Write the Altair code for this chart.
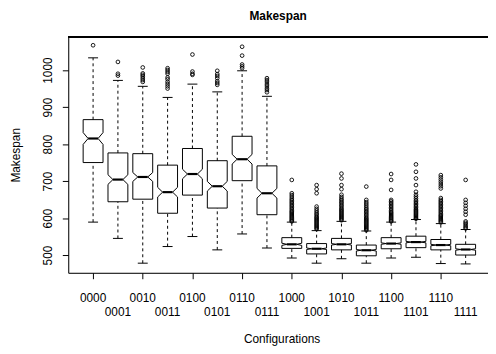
import altair as alt
import pandas as pd

# ---- data ----
configs = ['0000', '0001', '0010', '0011', '0100', '0101', '0110', '0111',
           '1000', '1001', '1010', '1011', '1100', '1101', '1110', '1111']
q1 = [750, 644, 651, 613, 662, 627, 701, 609, 518, 503, 514, 498, 517, 520, 514, 500]
median = [815, 704, 711, 670, 719, 686, 759, 667, 529, 517, 529, 513, 531, 535, 527, 515]
q3 = [866, 776, 774, 743, 788, 755, 821, 741, 547, 531, 545, 527, 547, 551, 542, 529]
whisker_lo = [589, 545, 478, 523, 550, 514, 557, 519, 492, 478, 490, 478, 492, 494, 477, 476]
whisker_hi = [1033, 972, 956, 926, 962, 941, 998, 929, 589, 566, 591, 565, 589, 596, 585, 569]
notch = [16, 13, 12, 13, 13, 13, 13, 13, 3, 2, 2, 2, 2, 2, 2, 2]
outliers = {
    '0000': [1067],
    '0001': [1022, 990, 985],
    '0010': [1007, 991, 987, 983, 978, 973, 968],
    '0011': [1005, 1000, 995, 990, 980, 975, 968, 962, 956, 950],
    '0100': [1042, 996, 990, 987],
    '0101': [998, 989, 984, 978, 970, 965, 960],
    '0110': [1063, 1039, 1015, 1010, 1005],
    '0111': [978, 973, 968, 962, 957, 951, 946, 940],
    '1000': [703, 667, 662, 657, 652, 648, 644, 640, 636, 632, 628, 624, 620, 617,
             614, 611, 608, 605, 602, 599, 596, 593, 591],
    '1001': [689, 678, 667, 631, 625, 620, 615, 611, 607, 603, 600, 597, 594, 591,
             588, 585, 582, 579, 576, 573, 570],
    '1010': [720, 707, 689, 678, 663, 657, 652, 648, 644, 640, 636, 632, 628, 624,
             621, 618, 615, 612, 609, 606, 603, 600, 597, 594],
    '1011': [685, 649, 643, 638, 633, 628, 624, 620, 616, 612, 608, 604, 600, 597,
             594, 591, 588, 585, 582, 579, 576, 573, 570, 567],
    '1100': [719, 703, 676, 649, 645, 641, 637, 633, 629, 625, 621, 617, 614, 611,
             608, 605, 602, 599, 596, 593, 591],
    '1101': [745, 725, 707, 689, 671, 663, 658, 653, 648, 644, 640, 636, 632, 628,
             624, 621, 618, 615, 612, 609, 606, 603, 600, 598],
    '1110': [716, 710, 704, 698, 692, 686, 680, 654, 649, 645, 641, 637, 633, 629,
             625, 621, 617, 613, 609, 606, 603, 600, 597, 594, 591, 588],
    '1111': [703, 649, 641, 633, 625, 617, 609, 591, 587, 583, 579, 575, 572],
}
y_ticks = [500, 600, 700, 800, 900, 1000]

# ---- build tables ----
HW = 0.4     # half box width (x units)
NW = 0.2     # half width at the notch
CAP = 0.2    # half staple width

poly = []
stats = []
pts = []
for i, c in enumerate(configs):
    cx = i + 1
    a, m, b, n = q1[i], median[i], q3[i], notch[i]
    shape = [(cx - HW, a), (cx - HW, m - n), (cx - NW, m), (cx - HW, m + n), (cx - HW, b),
             (cx + HW, b), (cx + HW, m + n), (cx + NW, m), (cx + HW, m - n), (cx + HW, a),
             (cx - HW, a)]
    for k, (px, py) in enumerate(shape):
        poly.append({'cfg': c, 'k': k, 'px': px, 'py': py})
    stats.append({'cfg': c, 'cx': cx, 'row': i % 2, 'l': cx - NW, 'r': cx + NW,
                  'cl': cx - CAP, 'cr': cx + CAP,
                  'q1': a, 'med': m, 'q3': b, 'lo': whisker_lo[i], 'hi': whisker_hi[i]})
    for v in outliers[c]:
        pts.append({'cfg': c, 'cx': cx, 'v': v})

poly_df = pd.DataFrame(poly)
stats_df = pd.DataFrame(stats)
pts_df = pd.DataFrame(pts)

FONT = 'Liberation Sans'
W, H = 425, 239
xscale = alt.Scale(domain=[0, 16.9], nice=False, zero=False)
yscale = alt.Scale(domain=[452, 1090], nice=False, zero=False)

x_axis = alt.Axis(values=list(range(1, 17)), labels=False, title='Configurations',
                  grid=False, domainColor='black', tickColor='black', tickSize=6,
                  titleFont=FONT, titleFontSize=12, titleFontWeight='normal', titleColor='black',
                  titleX=216, titleY=67, titleBaseline='middle', titleAlign='center')
y_axis = alt.Axis(values=y_ticks, format='d', title='Makespan', grid=False, domainColor='black',
                  tickColor='black', tickSize=6, labelFont=FONT, labelFontSize=12,
                  labelColor='black', labelAngle=270, labelAlign='center',
                  labelBaseline='alphabetic', labelPadding=11,
                  titleFont=FONT, titleFontSize=12, titleFontWeight='normal', titleColor='black',
                  titleAngle=270, titleX=-53, titleY=119.5, titleBaseline='middle',
                  titleAlign='center')

boxes = alt.Chart(poly_df).mark_line(color='black', strokeWidth=1).encode(
    x=alt.X('px:Q', scale=xscale, axis=x_axis),
    y=alt.Y('py:Q', scale=yscale, axis=y_axis),
    detail='cfg:N',
    order='k:Q',
)

base = alt.Chart(stats_df)
med_rule = base.mark_rule(color='black', strokeWidth=2.2).encode(
    x=alt.X('l:Q', scale=xscale), x2='r:Q', y=alt.Y('med:Q', scale=yscale))
wh_up = base.mark_rule(color='black', strokeWidth=1, strokeDash=[3, 3]).encode(
    x=alt.X('cx:Q', scale=xscale), y=alt.Y('q3:Q', scale=yscale), y2='hi:Q')
wh_dn = base.mark_rule(color='black', strokeWidth=1, strokeDash=[3, 3]).encode(
    x=alt.X('cx:Q', scale=xscale), y=alt.Y('lo:Q', scale=yscale), y2='q1:Q')
cap_hi = base.mark_rule(color='black', strokeWidth=1).encode(
    x=alt.X('cl:Q', scale=xscale), x2='cr:Q', y=alt.Y('hi:Q', scale=yscale))
cap_lo = base.mark_rule(color='black', strokeWidth=1).encode(
    x=alt.X('cl:Q', scale=xscale), x2='cr:Q', y=alt.Y('lo:Q', scale=yscale))

points = alt.Chart(pts_df).mark_point(shape='circle', size=14, filled=False, color='black',
                                      strokeWidth=0.9, opacity=1).encode(
    x=alt.X('cx:Q', scale=xscale), y=alt.Y('v:Q', scale=yscale))

# tick labels in two staggered rows
lab_top = base.transform_filter('datum.row == 0').mark_text(
    font=FONT, fontSize=12, color='black', baseline='top', align='center').encode(
    x=alt.X('cx:Q', scale=xscale), y=alt.value(H + 21), text='cfg:N')
lab_bot = base.transform_filter('datum.row == 1').mark_text(
    font=FONT, fontSize=12, color='black', baseline='top', align='center').encode(
    x=alt.X('cx:Q', scale=xscale), y=alt.value(H + 34.5), text='cfg:N')

top_frame = alt.Chart(stats_df).mark_rule(color='black', strokeWidth=1).encode(
    x=alt.value(0), x2=alt.value(W), y=alt.value(0))

chart = alt.layer(boxes, wh_up, wh_dn, cap_hi, cap_lo, med_rule, points, lab_top, lab_bot,
                  top_frame).properties(
    width=W, height=H,
    title=alt.TitleParams('Makespan', font=FONT, fontSize=12, fontWeight='bold', color='black',
                          anchor='middle', baseline='alphabetic', offset=4),
    autosize=alt.AutoSizeParams(type='none'),
    padding={'left': 61, 'top': 27, 'right': 0, 'bottom': 72},
).configure_view(stroke=None, clip=False).configure(background='white')

chart.save('out.html', embed_options={'renderer': 'svg', 'actions': False})
